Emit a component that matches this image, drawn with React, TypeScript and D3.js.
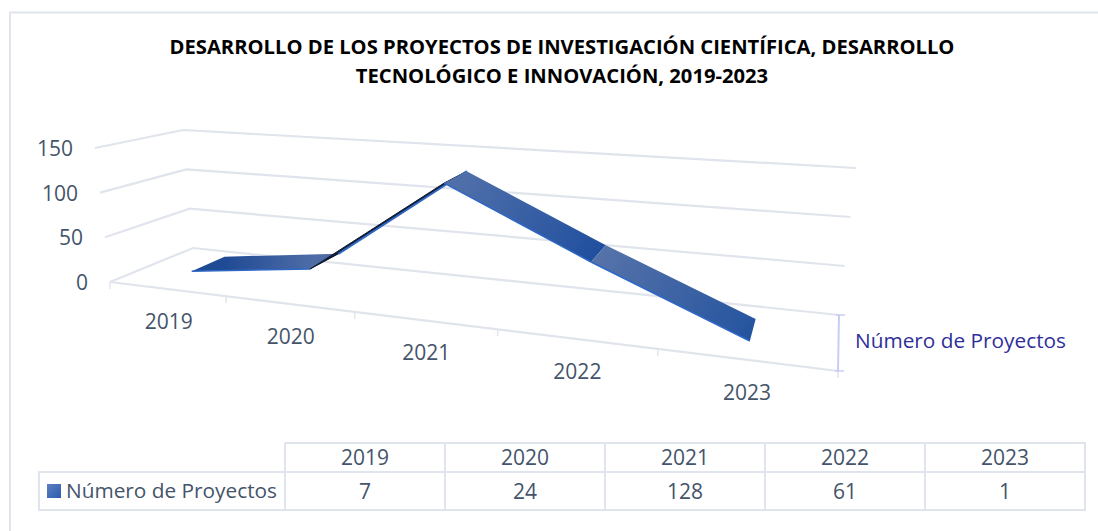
import React from "react";
import * as d3 from "d3";

const categories = ["2019", "2020", "2021", "2022", "2023"];
const seriesName = "Número de Proyectos";
const values = [7, 24, 128, 61, 1];
const valueTicks = [0, 50, 100, 150];
const titleLines = [
  "DESARROLLO DE LOS PROYECTOS DE INVESTIGACIÓN CIENTÍFICA, DESARROLLO",
  "TECNOLÓGICO E INNOVACIÓN, 2019-2023",
];

type P = [number, number];
const FL: P = [110, 282], FR: P = [838, 371], BR: P = [839, 315], BL: P = [193, 248];
const hFL: P = [-15, -134], hBL: P = [-10, -118], hBR: P = [17, -147], hFR: P = [20, -165];

function homography(u: number, d: number): P {
  const dx1 = FR[0] - BR[0], dx2 = BL[0] - BR[0], sx = FL[0] - FR[0] + BR[0] - BL[0];
  const dy1 = FR[1] - BR[1], dy2 = BL[1] - BR[1], sy = FL[1] - FR[1] + BR[1] - BL[1];
  const den = dx1 * dy2 - dx2 * dy1;
  const g = (sx * dy2 - dx2 * sy) / den;
  const h = (dx1 * sy - sx * dy1) / den;
  const a = FR[0] - FL[0] + g * FR[0], b = BL[0] - FL[0] + h * BL[0], c = FL[0];
  const e = FR[1] - FL[1] + g * FR[1], f = BL[1] - FL[1] + h * BL[1], i = FL[1];
  const w = g * u + h * d + 1;
  return [(a * u + b * d + c) / w, (e * u + f * d + i) / w];
}

const uScale = d3.scaleLinear().domain([0, categories.length]).range([0, 1]);
const vScale = d3.scaleLinear().domain([0, 150]).range([0, 1]);
const mix = (a: number, b: number, t: number) => a + (b - a) * t;

function project(cat: number, depth: number, value: number): P {
  const u = uScale(cat);
  const [x, y] = homography(u, depth);
  const v = vScale(value);
  const hx = mix(mix(hFL[0], hFR[0], u), mix(hBL[0], hBR[0], u), depth);
  const hy = mix(mix(hFL[1], hFR[1], u), mix(hBL[1], hBR[1], u), depth);
  return [x + hx * v, y + hy * v];
}

const D1 = 0.3, D2 = 0.72;
const GRID = "#e0e4ec";
const TEXT = "#44546a";
const FONT = "'Open Sans', 'Noto Sans', sans-serif";

const tableX = d3.scaleLinear().domain([0, 5]).range([285, 1085]);
const rowY = [443, 472, 510];
const line = d3.line();
const pts = (p: P[]) => line(p) + "Z";

const segColors: [string, string][] = [
  ["#1f4a94", "#4d6ca6"],
  ["#101c33", "#101c33"],
  ["#4f6fa9", "#214f9f"],
  ["#5672a9", "#24549f"],
];

export default function App() {
  return (
    <svg width={1098} height={531} style={{ position: "absolute", left: 0, top: 0, background: "#fff" }} fontFamily={FONT}>
      <defs>
        {segColors.map((c, i) => {
          const a = project(i + 0.5, D2, values[i]);
          const b = project(i + 1.5, D1, values[i + 1]);
          return (
            <linearGradient key={i} id={`seg${i}`} gradientUnits="userSpaceOnUse" x1={a[0]} y1={a[1]} x2={b[0]} y2={b[1]}>
              <stop offset="0" stopColor={c[0]} />
              <stop offset="1" stopColor={c[1]} />
            </linearGradient>
          );
        })}
        <linearGradient id="leg" x1="0" y1="0" x2="1" y2="1">
          <stop offset="0" stopColor="#5f7fc0" />
          <stop offset="1" stopColor="#2c5cb0" />
        </linearGradient>
      </defs>
      <path d="M10 1000V12.5H1098" fill="none" stroke={GRID} strokeWidth={2} />
      {titleLines.map((t, i) => (
        <text key={t} x={562} y={54 + i * 29} textAnchor="middle" fontSize={20.2} fontWeight={700} fill="#000">{t}</text>
      ))}

      {valueTicks.map((v) => {
        const a = project(0, 0, v), b = project(0, 1, v), c = project(5, 1, v);
        return (
          <g key={v}>
            <path d={line([a, b, c])!} fill="none" stroke={GRID} strokeWidth={2.2} />
            <text x={a[0] - 22} y={a[1] + 8} textAnchor="end" fontSize={21} fill={TEXT}>{v}</text>
          </g>
        );
      })}
      <path d={line([project(0, 0, 0), project(5, 0, 0)])!} fill="none" stroke={GRID} strokeWidth={2.2} />
      {d3.range(0, 6).map((i) => {
        const a = project(i, 0, 0);
        return <path key={i} d={line([a, [a[0], a[1] + 7]])!} stroke={GRID} strokeWidth={1.5} />;
      })}
      {categories.map((c, i) => {
        const a = project(i + 0.5, 0, 0);
        return <text key={c} x={a[0] + 2} y={a[1] + 40} textAnchor="middle" fontSize={21} fill={TEXT}>{c}</text>;
      })}

      {values.slice(0, -1).map((v, i) => {
        const a = project(i + 0.5, D1, v), b = project(i + 1.5, D1, values[i + 1]);
        const c = project(i + 1.5, D2, values[i + 1]), d = project(i + 0.5, D2, v);
        const rising = i === 1;
        return (
          <g key={i}>
            <path d={pts([a, b, c, d])} fill={`url(#seg${i})`} stroke={rising ? "#101c33" : "none"} strokeWidth={1} />
            <path d={line(rising ? [d, c] : [a, b])!} stroke="#2f68c4" strokeWidth={rising ? 2 : 1.5} fill="none" />
          </g>
        );
      })}

      {(() => {
        const a = project(5, 1, 0), b = project(5, 0, 0);
        return (
          <g>
            <path d={line([a, b])!} stroke="#c9cdf5" strokeWidth={2} fill="none" />
            <path d={line([[a[0] - 3, a[1]], [a[0] + 6, a[1]]])!} stroke="#c9cdf5" strokeWidth={1.5} />
            <path d={line([[b[0] - 3, b[1]], [b[0] + 6, b[1]]])!} stroke="#c9cdf5" strokeWidth={1.5} />
          </g>
        );
      })()}
      <text x={855} y={348} fontSize={20.8} fill="#2f2f9a">{seriesName}</text>

      <path d={`M285 ${rowY[0]}H1085V${rowY[2]}H39V${rowY[1]}H1085`} fill="none" stroke={GRID} strokeWidth={2} />
      {d3.range(0, 5).map((i) => (
        <path key={i} d={`M${tableX(i)} ${rowY[0]}V${rowY[2]}`} stroke={GRID} strokeWidth={2} />
      ))}
      {categories.map((c, i) => (
        <g key={c}>
          <text x={tableX(i + 0.5)} y={465} textAnchor="middle" fontSize={21} fill={TEXT}>{c}</text>
          <text x={tableX(i + 0.5)} y={499} textAnchor="middle" fontSize={21} fill={TEXT}>{values[i]}</text>
        </g>
      ))}
      <rect x={47} y={484} width={14} height={14} fill="url(#leg)" />
      <text x={66} y={498} fontSize={20.8} fill={TEXT}>{seriesName}</text>
    </svg>
  );
}
